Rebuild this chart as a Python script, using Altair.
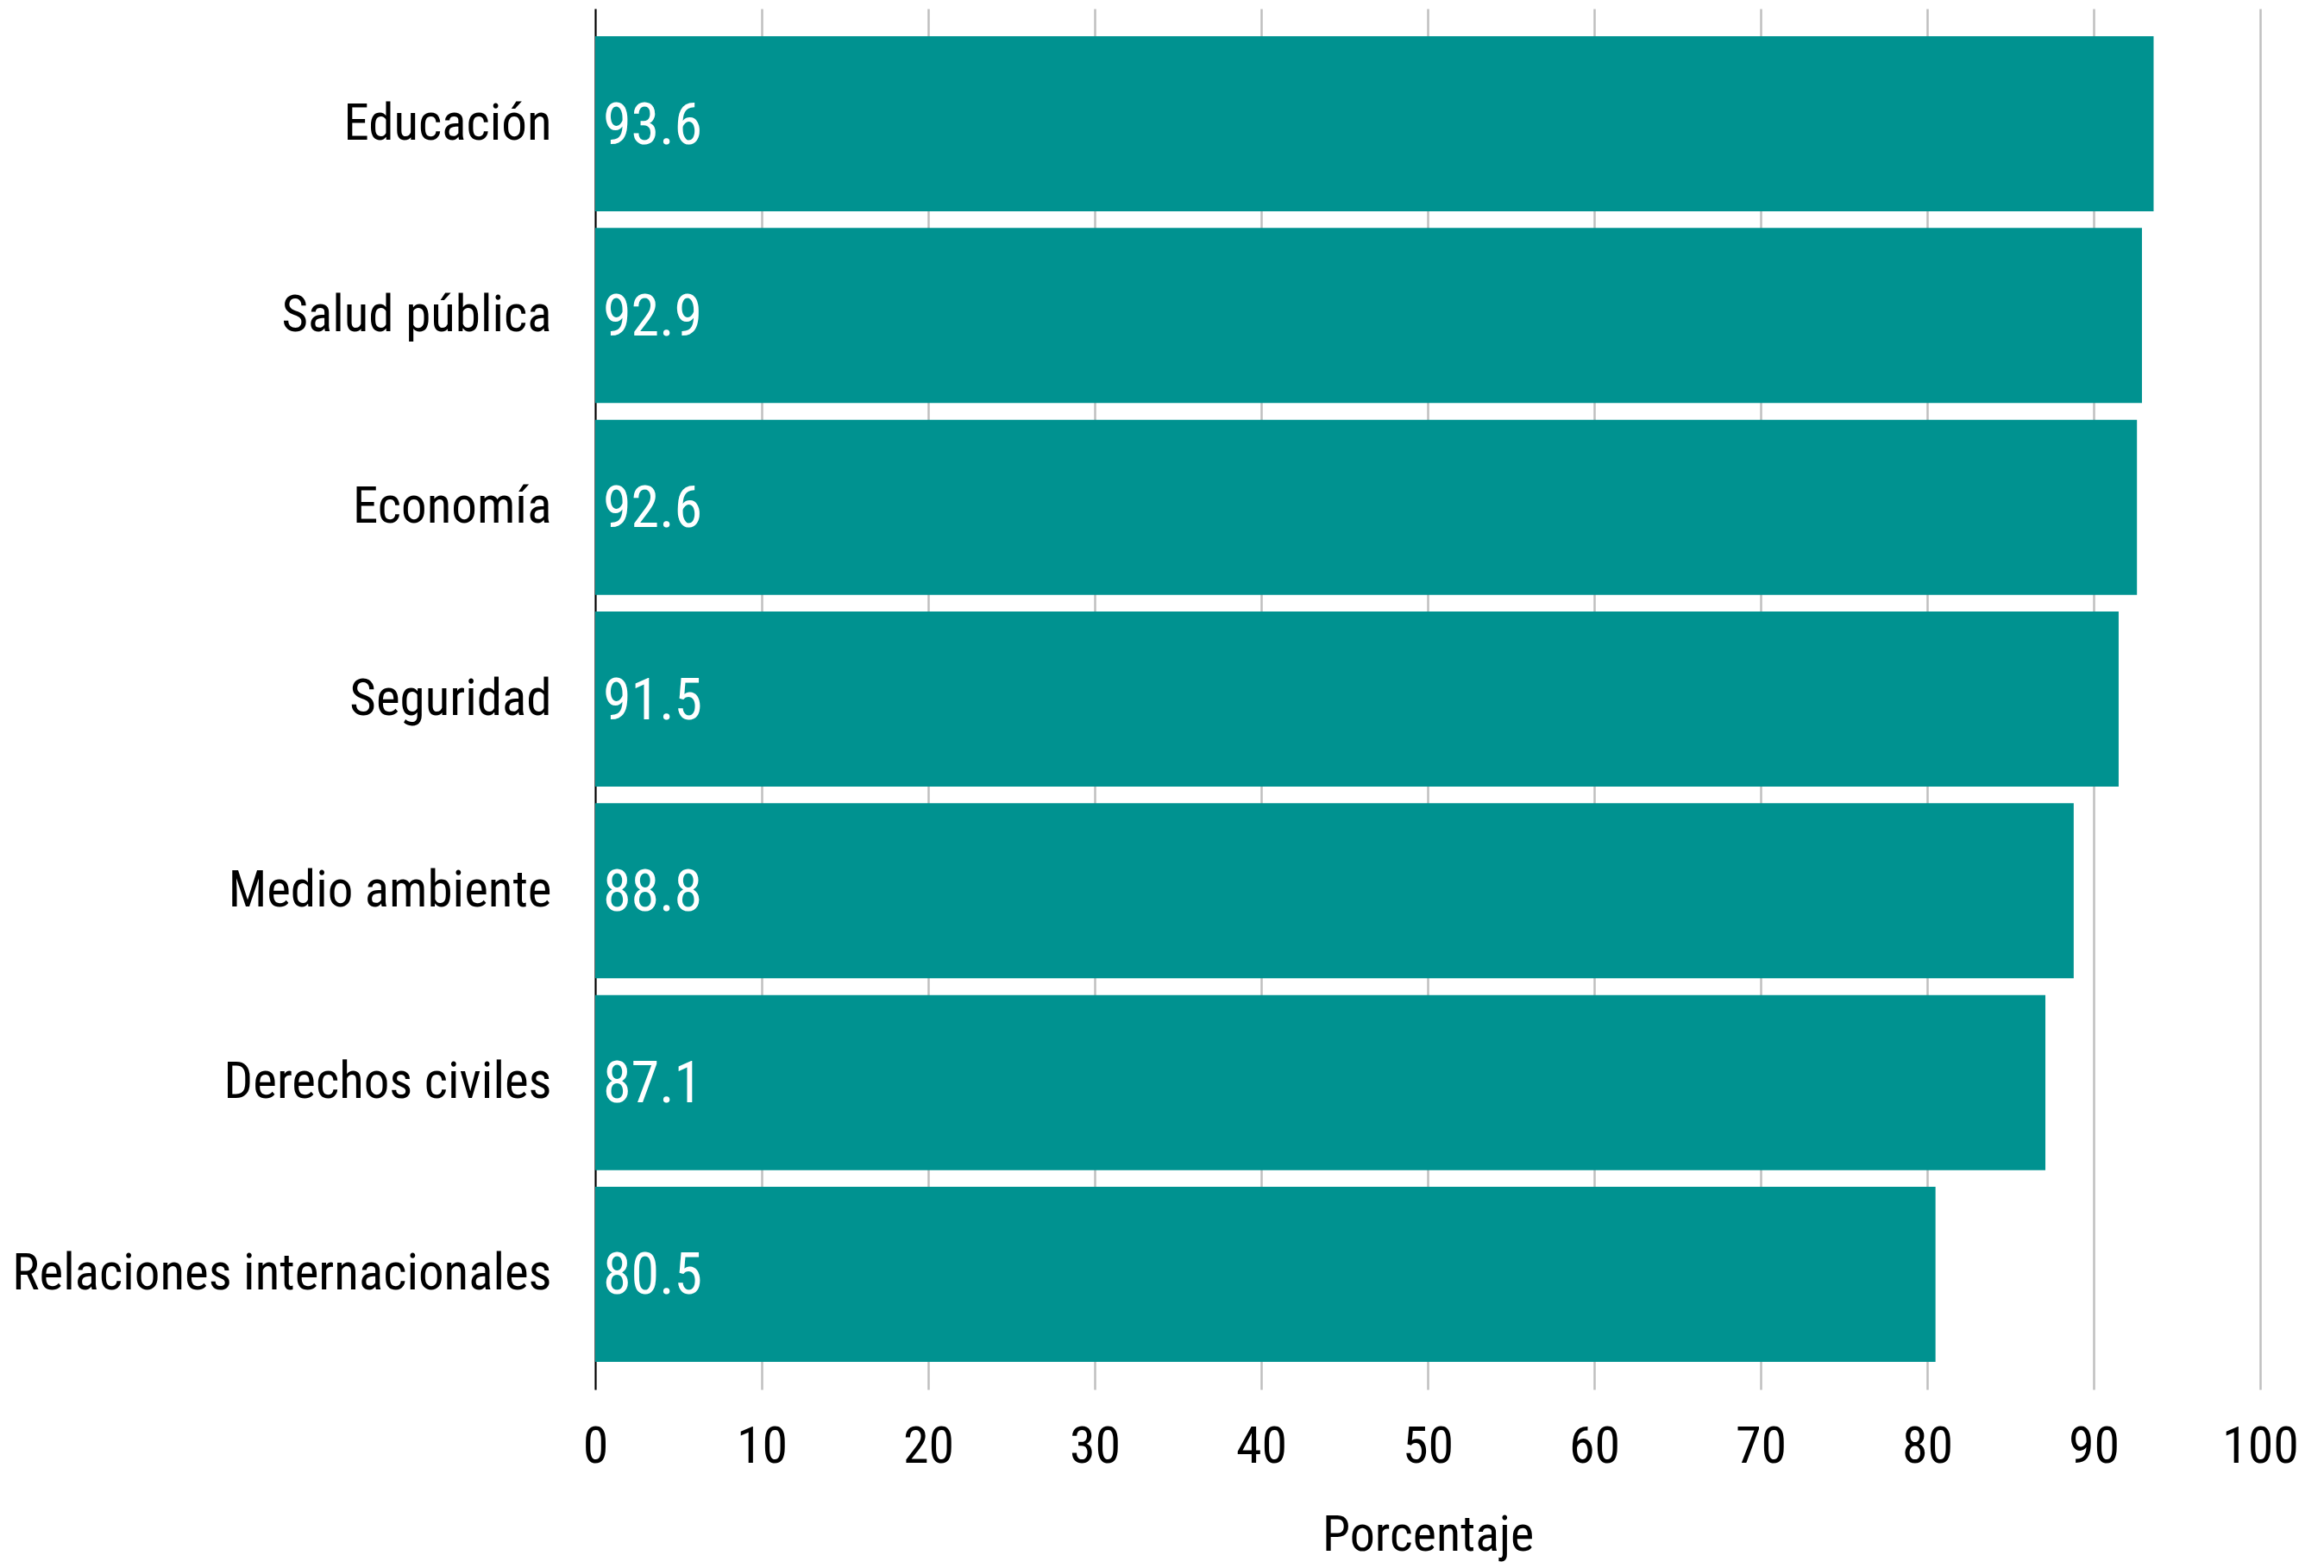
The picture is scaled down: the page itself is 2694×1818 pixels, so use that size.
import altair as alt
import pandas as pd

categories = ["Educación", "Salud pública", "Economía", "Seguridad",
              "Medio ambiente", "Derechos civiles", "Relaciones internacionales"]
values = [93.6, 92.9, 92.6, 91.5, 88.8, 87.1, 80.5]
x_ticks = [0, 10, 20, 30, 40, 50, 60, 70, 80, 90, 100]

df = pd.DataFrame({"tema": categories, "pct": values})
df["etiqueta"] = df["pct"].map(lambda v: f"{v:.1f}")

FONT = "Roboto Condensed, Liberation Sans Narrow, DejaVu Sans Condensed, Roboto, sans-serif"
BAR = "#009290"

x_enc = alt.X(
    "pct:Q",
    scale=alt.Scale(domain=[0, 100], nice=False),
    axis=alt.Axis(
        values=x_ticks, title="Porcentaje", grid=True, gridColor="#bfbfbf",
        gridWidth=2.5, domain=False, ticks=True, tickSize=0, labelPadding=37,
        labelFontSize=60, labelFont=FONT, labelColor="black", labelFlush=False,
        titleFont=FONT, titleFontSize=58, titleFontWeight="normal",
        titleColor="black", titleBaseline="alphabetic", titleY=186,
    ),
)
y_enc = alt.Y(
    "tema:N", sort=categories,
    scale=alt.Scale(paddingInner=0.087, paddingOuter=0.144),
    axis=alt.Axis(
        title=None, domain=True, domainColor="black", domainWidth=2,
        ticks=True, tickSize=0, labelPadding=51, labelFontSize=59,
        labelFont=FONT, labelColor="black", labelLimit=2000, grid=False,
    ),
)

bars = alt.Chart(df).mark_bar(color=BAR).encode(x=x_enc, y=y_enc)
text = alt.Chart(df).mark_text(
    align="left", baseline="middle", dx=9, dy=3, color="white",
    fontSize=66, font=FONT,
).encode(
    x=alt.datum(0),
    y=alt.Y("tema:N", sort=categories),
    text="etiqueta:N",
)

chart = alt.layer(bars, text).properties(
    width=1930, height=1601,
    padding={"left": 682, "top": 2, "right": 60, "bottom": 205},
    autosize=alt.AutoSizeParams(type="none"),
).configure_view(stroke=None)

chart.save("out.html", embed_options={"renderer": "svg", "actions": False})
